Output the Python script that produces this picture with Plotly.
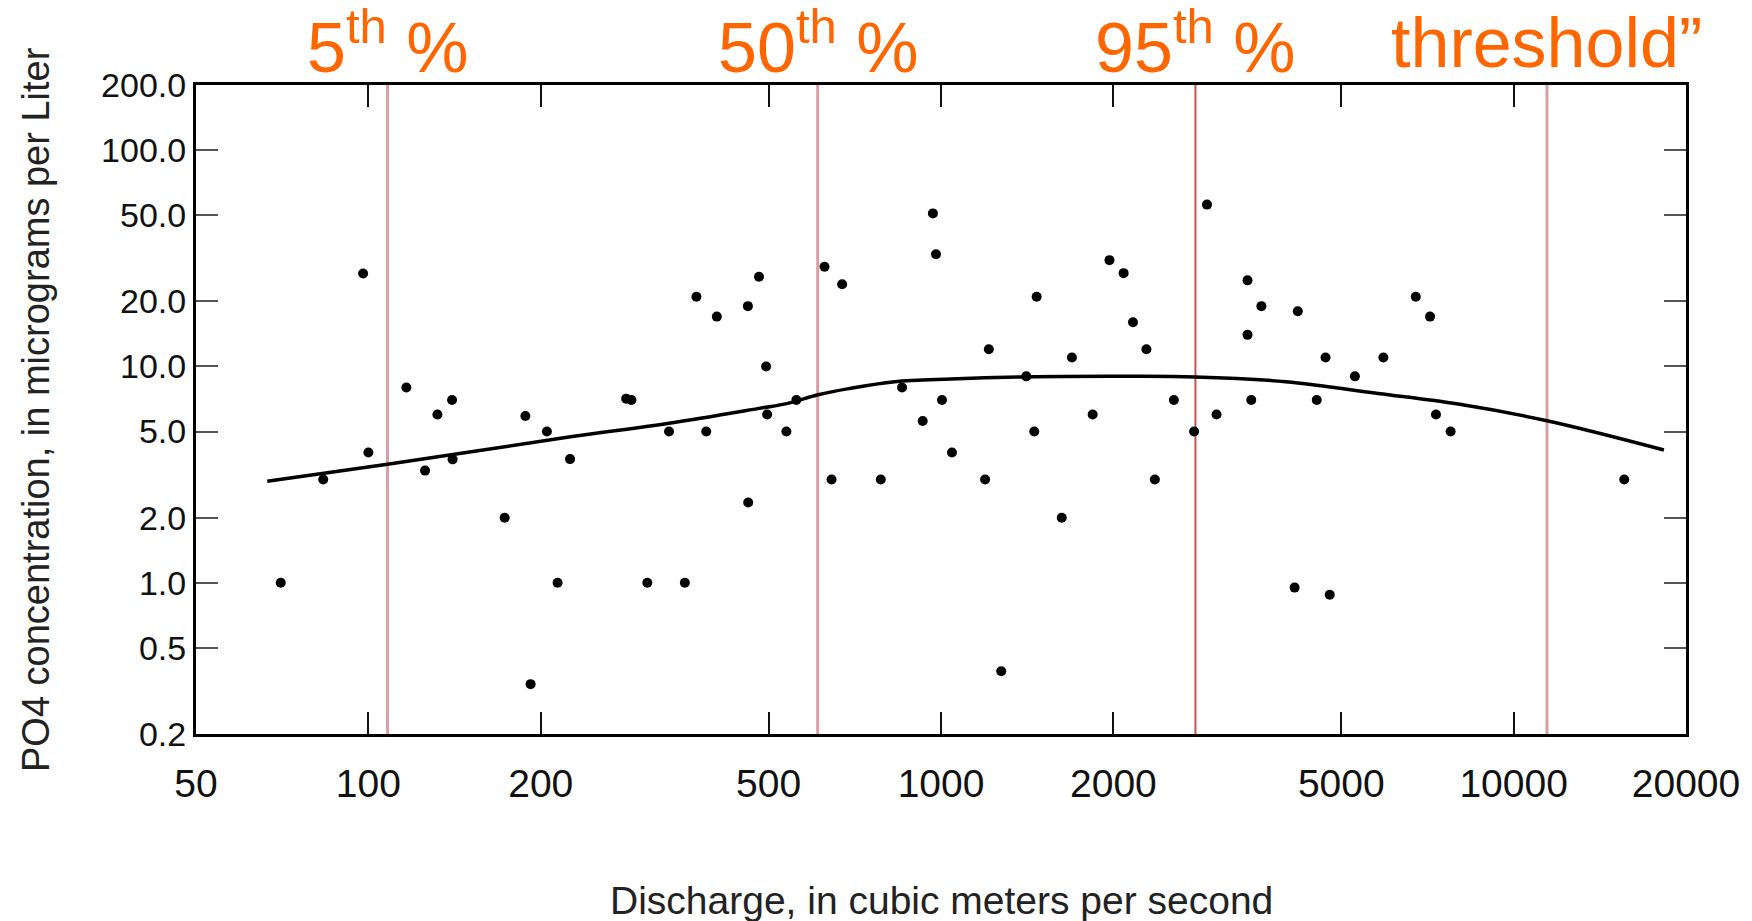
import math
import plotly.graph_objects as go

# ---------------- data ----------------
discharge = [70.3, 83.4, 97.9, 100, 116.5, 125.6, 132, 140, 140.3, 173,
             188, 192, 205, 214, 225, 282, 288, 307, 335, 357,
             374, 389, 406, 460, 460.6, 481, 495, 497, 537, 559,
             626, 644, 672, 785, 855, 929, 968, 980, 1004, 1045,
             1194, 1212, 1274, 1409, 1455, 1469, 1625, 1693, 1840, 1969,
             2084, 2164, 2284, 2363, 2551, 2767, 2914, 3028, 3430, 3430,
             3482, 3627, 4145, 4198, 4531, 4694, 4774, 5282, 5922, 6748,
             7145, 7318, 7762, 15600]
po4 = [1.0, 3.0, 26.9, 4.0, 8.0, 3.3, 6.0, 7.0, 3.72, 2.0,
       5.9, 0.34, 5.0, 1.0, 3.73, 7.1, 7.0, 1.0, 5.0, 1.0,
       21.0, 5.0, 17.0, 19.0, 2.35, 26.0, 10.0, 6.0, 5.0, 7.0,
       28.9, 3.0, 24.0, 3.0, 8.0, 5.6, 51.0, 33.0, 7.0, 4.0,
       3.0, 12.0, 0.39, 9.0, 5.0, 21.0, 2.0, 11.0, 6.0, 31.0,
       27.0, 16.0, 12.0, 3.0, 7.0, 5.0, 56.0, 6.0, 25.0, 14.0,
       7.0, 19.0, 0.95, 18.0, 7.0, 11.0, 0.88, 9.0, 11.0, 21.0,
       17.0, 6.0, 5.0, 3.0]

smooth_x = [66.6, 108, 227, 335, 481, 540, 610, 690, 830, 1040,
            1410, 2000, 2780, 4000, 5800, 8000, 11435, 18300]
smooth_y = [2.95, 3.53, 4.74, 5.46, 6.40, 6.75, 7.40, 7.90, 8.50, 8.75,
            8.95, 9.0, 8.95, 8.5, 7.5, 6.7, 5.61, 4.11]

pct_labels = ["5<sup>th</sup> %", "50<sup>th</sup> %", "95<sup>th</sup> %", "threshold\u201d"]
pct_values = [108, 609, 2782, 11435]

x_tick_vals = [50, 100, 200, 500, 1000, 2000, 5000, 10000, 20000]
x_tick_text = ["50", "100", "200", "500", "1000", "2000", "5000", "10000", "20000"]
y_tick_vals = [0.2, 0.5, 1, 2, 5, 10, 20, 50, 100, 200]
y_tick_text = ["0.2", "0.5", "1.0", "2.0", "5.0", "10.0", "20.0", "50.0", "100.0", "200.0"]

x_range = [50, 20000]
y_range = [0.2, 200]

# ---------------- styles ----------------
line_colors = ["#d9a0a3", "#d9a0a3", "#c9504f", "#d9a0a3"]
line_widths = [3, 3, 2, 3]
FONT = "Liberation Sans, Arial, sans-serif"
ORANGE = "#ff6600"

fig = go.Figure()

for v, c, w in zip(pct_values, line_colors, line_widths):
    fig.add_trace(go.Scatter(x=[v, v], y=y_range, mode="lines",
                             line=dict(color=c, width=w),
                             hoverinfo="skip", showlegend=False))

fig.add_trace(go.Scatter(x=discharge, y=po4, mode="markers",
                         marker=dict(color="black", size=10),
                         showlegend=False))

fig.add_trace(go.Scatter(x=smooth_x, y=smooth_y, mode="lines",
                         line=dict(color="black", width=3.5, shape="spline"),
                         showlegend=False))

annotations = []
for lab, v in zip(pct_labels, pct_values):
    annotations.append(dict(x=math.log10(v), y=1.064, xref="x", yref="paper",
                            text=lab, showarrow=False, xanchor="center", yanchor="middle",
                            font=dict(family=FONT, size=70, color=ORANGE)))

annotations.append(dict(x=0.5, y=-0.256, xref="paper", yref="paper",
                        text="Discharge, in cubic meters per second", showarrow=False,
                        xanchor="center", yanchor="middle",
                        font=dict(family=FONT, size=39, color="#222")))
annotations.append(dict(x=-0.1077, y=0.5, xref="paper", yref="paper",
                        text="PO4 concentration, in micrograms per Liter", showarrow=False,
                        textangle=-90, xanchor="center", yanchor="middle",
                        font=dict(family=FONT, size=38, color="#222")))

fig.update_layout(
    width=1752, height=921,
    margin=dict(l=196, r=57, t=85, b=187),
    paper_bgcolor="white", plot_bgcolor="white",
    showlegend=False,
    annotations=annotations,
    font=dict(family=FONT, color="#222"),
)

fig.update_xaxes(type="log", range=[math.log10(x_range[0]), math.log10(x_range[1])],
                 tickvals=x_tick_vals, ticktext=x_tick_text,
                 ticks="inside", ticklen=22, tickwidth=2, tickcolor="#111",
                 showline=True, linecolor="black", linewidth=3, mirror="allticks",
                 showgrid=False, zeroline=False,
                 tickfont=dict(family=FONT, size=39, color="#111"),
                 ticklabelstandoff=13)

fig.update_yaxes(type="log", range=[math.log10(y_range[0]), math.log10(y_range[1])],
                 tickvals=y_tick_vals, ticktext=y_tick_text,
                 ticks="inside", ticklen=22, tickwidth=2, tickcolor="#555",
                 showline=True, linecolor="black", linewidth=3, mirror="allticks",
                 showgrid=False, zeroline=False,
                 tickfont=dict(family=FONT, size=34, color="#111"),
                 ticklabelstandoff=0)

fig.write_html("out.html")
